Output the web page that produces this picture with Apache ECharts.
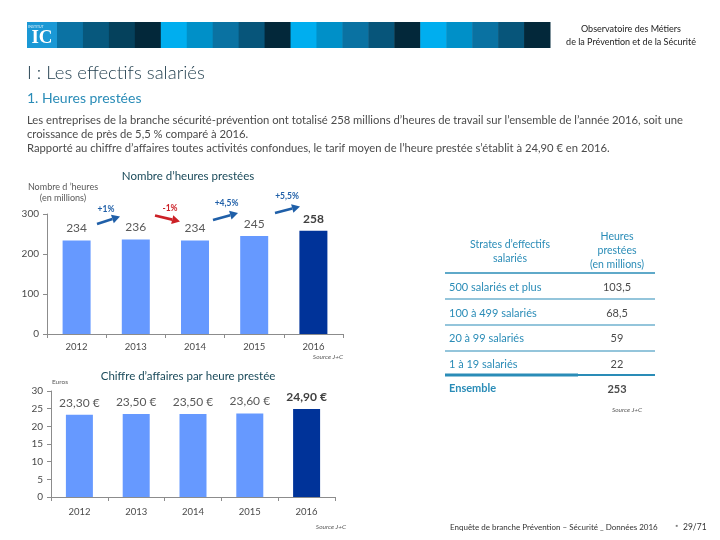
<!DOCTYPE html>
<html>
<head>
<meta charset="utf-8">
<script src="https://cdn.jsdelivr.net/npm/echarts@6/dist/echarts.min.js"></script>
<style>
html,body{margin:0;padding:0;background:#fff;}
#c{width:720px;height:540px;}
</style>
</head>
<body>
<div id="c"></div>
<script>
// ---- data ----
const categories = ['2012', '2013', '2014', '2015', '2016'];
const hoursMillions = [234, 236, 234, 245, 258];
const revenuePerHour = [23.3, 23.5, 23.5, 23.6, 24.9];
const growthLabels = ['+1%', '-1%', '+4,5%', '+5,5%'];
const growthUp = [true, false, true, true];
const hoursTicks = { min: 0, max: 300, interval: 100 };
const euroTicks = { min: 0, max: 30, interval: 5 };
const strata = ['500 salariés et plus', '100 à 499 salariés', '20 à 99 salariés', '1 à 19 salariés'];
const strataHours = ['103,5', '68,5', '59', '22'];
const totalLabel = 'Ensemble';
const totalHours = '253';

// ---- styles ----
const FONT = 'Lato, "Open Sans", "DejaVu Sans", sans-serif';
const LIGHT = '#6699ff';
const DARK = '#003399';
const TEAL = '#2a8cb7';
const GRAY = '#595959';

const chart = echarts.init(document.getElementById('c'), null, { renderer: 'canvas' });

function barData(vals) {
  return vals.map((v, i) => {
    const last = i === vals.length - 1;
    return {
      value: v,
      itemStyle: { color: last ? DARK : LIGHT },
      label: last ? { fontWeight: 'bold', color: '#404040' } : {}
    };
  });
}

function txt(x, y, text, o) {
  o = o || {};
  return {
    type: 'text', x: x, y: y, silent: true,
    style: {
      text: text,
      fontFamily: o.family || FONT,
      fontSize: o.size || 11,
      fontWeight: o.weight || 'normal',
      fontStyle: o.style || 'normal',
      fill: o.color || '#333',
      align: o.align || 'left',
      verticalAlign: 'middle'
    }
  };
}
function hline(x1, x2, y, w, c) {
  return { type: 'line', silent: true, shape: { x1: x1, y1: y, x2: x2, y2: y }, style: { stroke: c, lineWidth: w } };
}
function arrow(x1, y1, x2, y2, color) {
  const a = Math.atan2(y2 - y1, x2 - x1);
  const L = 8, W = 4.5;
  const bx = x2 - L * Math.cos(a), by = y2 - L * Math.sin(a);
  const px = -Math.sin(a) * W, py = Math.cos(a) * W;
  return [
    { type: 'line', silent: true, shape: { x1: x1, y1: y1, x2: bx, y2: by }, style: { stroke: color, lineWidth: 2.6 } },
    { type: 'polygon', silent: true, shape: { points: [[x2, y2], [bx + px, by + py], [bx - px, by - py]] }, style: { fill: color } }
  ];
}

const g = [];
// header logo + squares
g.push({ type: 'rect', silent: true, shape: { x: 27, y: 22, width: 30, height: 26 }, style: { fill: '#1a98d5' } });
g.push(txt(42, 38, 'IC', { family: '"Liberation Serif", serif', size: 19, weight: 'bold', color: '#fff', align: 'center' }));
g.push(txt(36, 26.5, 'INSTITUT', { size: 3.5, color: '#e8f4fb', align: 'center' }));
const firstGroup = ['#0b72a3', '#07587d', '#05415c', '#03283a'];
const group = ['#00aeef', '#0090c8', '#0a72a2', '#07557a', '#03283a'];
const sq = [];
firstGroup.forEach(c => sq.push(c));
for (let k = 0; k < 3; k++) group.forEach(c => sq.push(c));
const sqW = (550 - 57) / sq.length;
sq.forEach((c, i) => {
  g.push({ type: 'rect', silent: true, shape: { x: 57 + i * sqW, y: 22, width: sqW + 0.5, height: 26 }, style: { fill: c } });
});
g.push(txt(631, 29, 'Observatoire des Métiers', { size: 9, color: '#222', align: 'center' }));
g.push(txt(631, 42, 'de la Prévention et de la Sécurité', { size: 9, color: '#222', align: 'center' }));

// titles and paragraph
g.push(txt(27, 73, 'I : Les effectifs salariés', { size: 18.5, color: '#1c3a4a', weight: 300 }));
g.push(txt(27, 98, '1. Heures prestées', { size: 14, color: TEAL }));
const PARA = { size: 11.25, color: '#4a4a4a' };
g.push(txt(27, 120, 'Les entreprises de la branche sécurité-prévention ont totalisé 258 millions d’heures de travail sur l’ensemble de l’année 2016, soit une', PARA));
g.push(txt(27, 134, 'croissance de près de 5,5 % comparé à 2016.', PARA));
g.push(txt(27, 148, 'Rapporté au chiffre d’affaires toutes activités confondues, le tarif moyen de l’heure prestée s’établit à 24,90 € en 2016.', PARA));

// chart 1 annotations
g.push(txt(188, 176, 'Nombre d’heures prestées', { size: 11.5, color: '#1a4a5a', align: 'center' }));
g.push(txt(63, 187, 'Nombre d ’heures', { size: 9, color: GRAY, align: 'center' }));
g.push(txt(63, 198, '(en millions)', { size: 9, color: GRAY, align: 'center' }));
g.push(txt(343, 357, 'Source J+C', { size: 6.5, style: 'italic', color: GRAY, align: 'right' }));
const arrows = [
  { lab: [106, 209], from: [97, 224], to: [120, 216.5] },
  { lab: [170, 208], from: [155, 215.5], to: [180, 221.5] },
  { lab: [226.5, 203], from: [213, 220], to: [238, 213] },
  { lab: [287, 196.5], from: [275, 213], to: [300, 206.5] }
];
arrows.forEach((a, i) => {
  const col = growthUp[i] ? '#1f5fa8' : '#cc2026';
  arrow(a.from[0], a.from[1], a.to[0], a.to[1], col).forEach(e => g.push(e));
  g.push(txt(a.lab[0], a.lab[1], growthLabels[i], { size: 8.5, color: col, align: 'center', weight: 'bold' }));
});

// chart 2 annotations
g.push(txt(188, 376, 'Chiffre d’affaires par heure prestée', { size: 11.5, color: '#1a4a5a', align: 'center' }));
g.push(txt(52, 382, 'Euros', { size: 6.5, color: GRAY }));
g.push(txt(346, 527, 'Source J+C', { size: 6.5, style: 'italic', color: GRAY, align: 'right' }));

// table
const cL = 510, cR = 617, tx0 = 445, tx1 = 655;
const HDR = { size: 10.5, color: TEAL, align: 'center' };
g.push(txt(cL, 245, 'Strates d’effectifs', HDR));
g.push(txt(cL, 259, 'salariés', HDR));
g.push(txt(cR, 237, 'Heures', HDR));
g.push(txt(cR, 251, 'prestées', HDR));
g.push(txt(cR, 265, '(en millions)', HDR));
g.push(hline(tx0, tx1, 273, 1.5, TEAL));
const rowY = [287, 313, 338, 364];
const lineY = [299, 325, 351];
strata.forEach((s, i) => {
  g.push(txt(449, rowY[i], s, { size: 11, color: TEAL }));
  g.push(txt(cR, rowY[i], strataHours[i], { size: 11, color: '#4a4a4a', align: 'center' }));
  if (i < lineY.length) g.push(hline(tx0, tx1, lineY[i], 1.2, TEAL));
});
g.push(hline(tx0, 578, 375, 3, TEAL));
g.push(hline(578, tx1, 375, 2, TEAL));
g.push(txt(449, 388, totalLabel, { size: 11, color: TEAL, weight: 'bold' }));
g.push(txt(cR, 389, totalHours, { size: 11, color: '#4a4a4a', align: 'center', weight: 'bold' }));
g.push(txt(627, 410, 'Source J+C', { size: 6.5, style: 'italic', color: GRAY, align: 'center' }));

// footer
g.push(txt(450, 527, 'Enquête de branche Prévention – Sécurité _ Données 2016', { size: 8, color: '#333' }));
g.push(txt(677, 526, '▪', { size: 7, color: '#7f7f7f', align: 'center' }));
g.push(txt(683, 527, '29/71', { size: 8.5, color: '#333' }));

const axisCommon = {
  axisLine: { show: true, lineStyle: { color: '#8c8c8c', width: 1 } },
  axisTick: { show: true, length: 4, lineStyle: { color: '#8c8c8c' } },
  splitLine: { show: false }
};

const option = {
  animation: false,
  backgroundColor: '#fff',
  grid: [
    { left: 47, top: 214, width: 296, height: 120 },
    { left: 51, top: 391, width: 284, height: 106 }
  ],
  xAxis: [
    Object.assign({ type: 'category', gridIndex: 0, data: categories,
      axisLabel: { fontFamily: FONT, fontSize: 9.5, color: '#4a4a4a', margin: 8 } }, axisCommon),
    Object.assign({ type: 'category', gridIndex: 1, data: categories,
      axisLabel: { fontFamily: FONT, fontSize: 9.5, color: '#4a4a4a', margin: 10 } }, axisCommon)
  ],
  yAxis: [
    Object.assign({ type: 'value', gridIndex: 0, min: hoursTicks.min, max: hoursTicks.max, interval: hoursTicks.interval,
      axisLabel: { fontFamily: FONT, fontSize: 10, color: '#4a4a4a', margin: 8 } }, axisCommon),
    Object.assign({ type: 'value', gridIndex: 1, min: euroTicks.min, max: euroTicks.max, interval: euroTicks.interval,
      axisLabel: { fontFamily: FONT, fontSize: 10, color: '#4a4a4a', margin: 8 } }, axisCommon)
  ],
  series: [
    {
      type: 'bar', xAxisIndex: 0, yAxisIndex: 0, barWidth: 28,
      data: barData(hoursMillions),
      label: { show: true, position: 'top', distance: 6, fontFamily: FONT, fontSize: 12, color: GRAY }
    },
    {
      type: 'bar', xAxisIndex: 1, yAxisIndex: 1, barWidth: 27,
      data: barData(revenuePerHour),
      label: { show: true, position: 'top', distance: 6, fontFamily: FONT, fontSize: 12, color: GRAY,
        formatter: p => p.value.toFixed(2).replace('.', ',') + ' €' }
    }
  ],
  graphic: g
};
chart.setOption(option);
</script>
</body>
</html>
